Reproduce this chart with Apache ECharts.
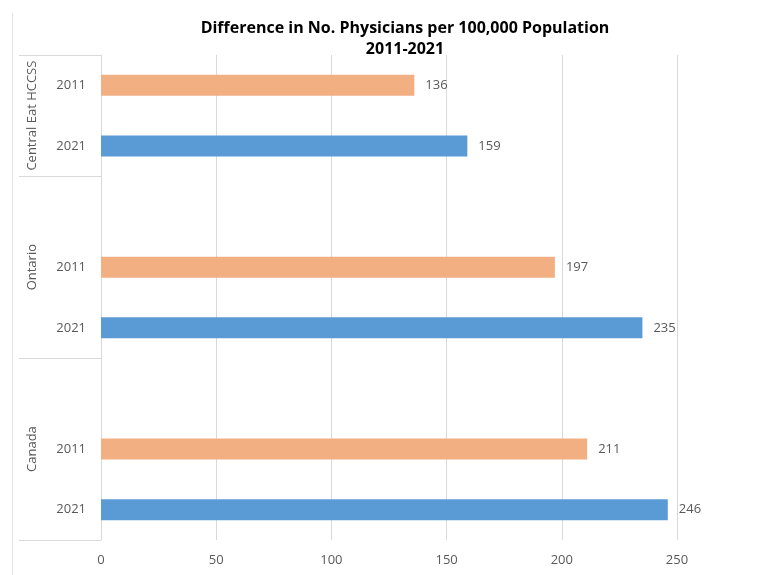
<!DOCTYPE html>
<html>
<head>
<meta charset="utf-8">
<script src="https://cdn.jsdelivr.net/npm/echarts@6/dist/echarts.min.js"></script>
<style>html,body{margin:0;padding:0;background:#fff;}#c{width:781px;height:575px;}</style>
</head>
<body>
<div id="c"></div>
<script>
const titleText = 'Difference in No. Physicians per 100,000 Population\n2011-2021';
const groups = ['Central Eat HCCSS', 'Ontario', 'Canada'];
const groupRanges = [[0, 1], [2, 4], [5, 7]];
const rowYears = ['2011', '2021', '', '2011', '2021', '', '2011', '2021'];
const values2011 = [136, null, null, 197, null, null, 211, null];
const values2021 = [null, 159, null, null, 235, null, null, 246];
const xTicks = [0, 50, 100, 150, 200, 250];

const cats = rowYears.map((y, i) => i + '|' + y);
const chart = echarts.init(document.getElementById('c'));
const lineCol = '#d9d9d9';
const txtCol = '#595959';
const font = '"Open Sans", "Liberation Sans", sans-serif';

chart.setOption({
  animation: false,
  title: {
    text: titleText, left: 400, textAlign: 'center', top: 13,
    textStyle: { fontFamily: font, fontSize: 16, fontWeight: 'bold', color: '#000', lineHeight: 21 }
  },
  grid: { left: 101, right: 104, top: 55, bottom: 35 },
  xAxis: {
    type: 'value', min: xTicks[0], max: xTicks[xTicks.length - 1], interval: 50,
    axisLine: { show: false }, axisTick: { show: false },
    axisLabel: { color: txtCol, fontFamily: font, fontSize: 13, margin: 14 },
    splitLine: { lineStyle: { color: lineCol, width: 1 } }
  },
  yAxis: {
    type: 'category', data: cats, inverse: true,
    axisLine: { show: true, lineStyle: { color: lineCol } },
    axisTick: { show: false },
    axisLabel: { color: txtCol, fontFamily: font, fontSize: 13, margin: 15,
      formatter: v => v.split('|')[1] }
  },
  series: [
    { name: '2011', type: 'bar', data: values2011, barWidth: 21, barGap: '-100%',
      itemStyle: { color: '#F2AF82' },
      label: { show: true, position: 'right', distance: 11, color: txtCol, fontFamily: font, fontSize: 13 } },
    { name: '2021', type: 'bar', data: values2021, barWidth: 21, barGap: '-100%',
      itemStyle: { color: '#5B9BD5' },
      label: { show: true, position: 'right', distance: 11, color: txtCol, fontFamily: font, fontSize: 13 } }
  ]
});

const p0 = chart.convertToPixel({ yAxisIndex: 0 }, 0);
const p1 = chart.convertToPixel({ yAxisIndex: 0 }, 1);
const band = p1 - p0;
const x0 = chart.convertToPixel({ xAxisIndex: 0 }, 0);
const edge = i => chart.convertToPixel({ yAxisIndex: 0 }, i) - band / 2;
const elems = [];
const bounds = [0, 2, 5];
bounds.forEach(i => {
  const y = Math.round(edge(i)) + 0.5;
  elems.push({ type: 'line', shape: { x1: 19, y1: y, x2: x0, y2: y }, style: { stroke: lineCol, lineWidth: 1 } });
});
const yEnd = Math.round(edge(7) + band) + 0.5;
elems.push({ type: 'line', shape: { x1: 19, y1: yEnd, x2: x0, y2: yEnd }, style: { stroke: lineCol, lineWidth: 1 } });
groups.forEach((g, k) => {
  const r = groupRanges[k];
  const yc = (edge(r[0]) + edge(r[1]) + band) / 2;
  elems.push({ type: 'text', x: 32, y: yc, rotation: Math.PI / 2,
    style: { text: g, fill: txtCol, font: '13px ' + font, align: 'center', verticalAlign: 'middle' } });
});
elems.push({ type: 'line', shape: { x1: 12.5, y1: 13, x2: 12.5, y2: 575 }, style: { stroke: '#e3e3e3', lineWidth: 1 } });
chart.setOption({ graphic: { elements: elems } });
</script>
</body>
</html>
